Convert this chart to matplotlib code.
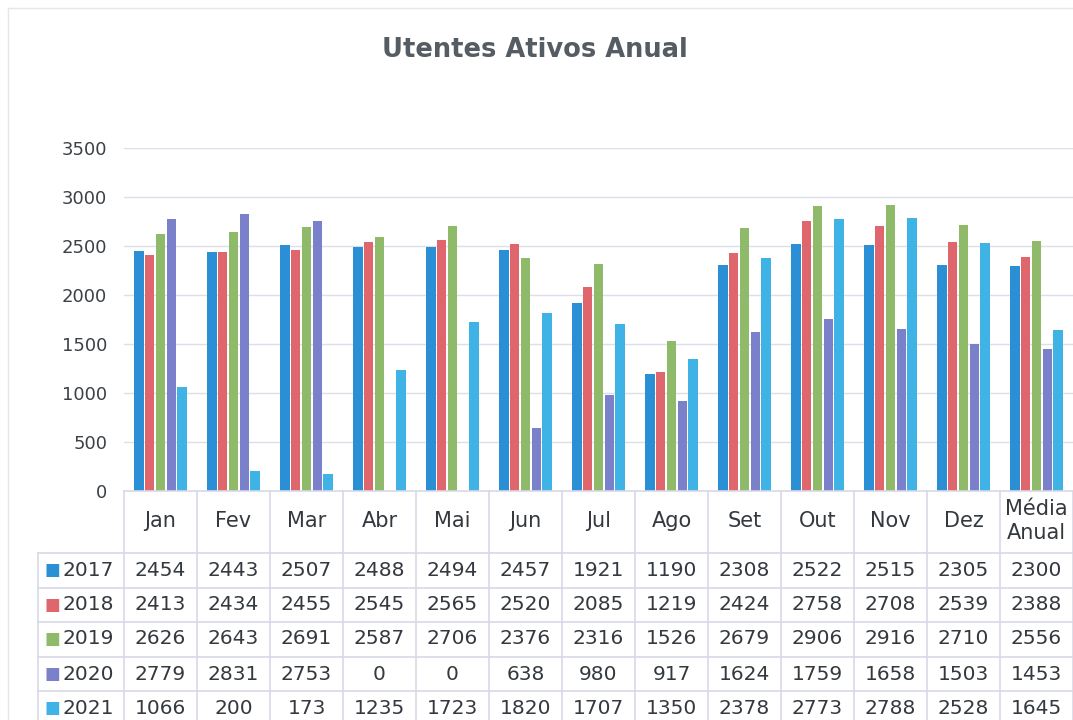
import numpy as np
import matplotlib.pyplot as plt
from matplotlib.transforms import blended_transform_factory
from matplotlib.lines import Line2D

# --- DADOS ---
meses = ["Jan", "Fev", "Mar", "Abr", "Mai", "Jun", "Jul", "Ago", "Set",
         "Out", "Nov", "Dez", "Média\nAnual"]
anos = ["2017", "2018", "2019", "2020", "2021"]
v2017 = [2454, 2443, 2507, 2488, 2494, 2457, 1921, 1190, 2308, 2522, 2515, 2305, 2300]
v2018 = [2413, 2434, 2455, 2545, 2565, 2520, 2085, 1219, 2424, 2758, 2708, 2539, 2388]
v2019 = [2626, 2643, 2691, 2587, 2706, 2376, 2316, 1526, 2679, 2906, 2916, 2710, 2556]
v2020 = [2779, 2831, 2753, 0, 0, 638, 980, 917, 1624, 1759, 1658, 1503, 1453]
v2021 = [1066, 200, 173, 1235, 1723, 1820, 1707, 1350, 2378, 2773, 2788, 2528, 1645]
series = [v2017, v2018, v2019, v2020, v2021]
cores = ["#2b8fd6", "#e0666e", "#8fba6a", "#7b80cb", "#3fb3e6"]

W, H = 1073, 720
fig = plt.figure(figsize=(W / 100, H / 100), dpi=100)
fig.patch.set_facecolor("white")

def fy(py):
    # pixel (de cima) -> fração da figura
    return 1 - py / H

x0, x1 = 124, 1073
y_top, y_zero = 148, 491
ax = fig.add_axes([x0 / W, fy(y_zero), (x1 - x0) / W, (y_zero - y_top) / H])

n = len(meses)
x = np.arange(n) + 0.5
passo, largura = 0.15, 0.135
for i, (vals, cor) in enumerate(zip(series, cores)):
    ax.bar(x + (i - 2) * passo, vals, width=largura, color=cor, zorder=3)

ax.set_xlim(0, n)
ax.set_ylim(0, 3500)
ax.set_yticks(np.arange(0, 3501, 500))
ax.tick_params(axis="y", length=0, pad=12, labelsize=13, labelcolor="#3c4146")
ax.set_xticks([])
for s in ax.spines.values():
    s.set_visible(False)
ax.grid(axis="y", color="#dcdee9", linewidth=1, zorder=0)
ax.set_axisbelow(True)

# --- TÍTULO ---
fig.text(535 / W, fy(50), "Utentes Ativos Anual", ha="center", va="center",
         fontsize=18.5, fontweight="bold", color="#555c64")

# --- TABELA DE DADOS ---
tr = blended_transform_factory(ax.transData, fig.transFigure)
cor_linha = "#d8d9e8"
txt_cor = "#33393f"

# linhas horizontais
linhas_y = [491, 553, 588, 622, 657, 691]
for k, py in enumerate(linhas_y):
    xa = x0 if k == 0 else 38
    fig.add_artist(Line2D([xa / W, 1], [fy(py), fy(py)], color=cor_linha, lw=1.2))
# linhas verticais
for j in range(n + 1):
    fig.add_artist(Line2D([j, j], [fy(491), fy(720)], color=cor_linha, lw=1.2,
                          transform=tr))
fig.add_artist(Line2D([38 / W, 38 / W], [fy(553), fy(720)], color=cor_linha, lw=1.2))

# cabeçalho
for j, m in enumerate(meses):
    fig.text(x[j], fy(521), m, transform=tr, ha="center", va="center",
             fontsize=15, color=txt_cor, linespacing=1.25)

# linhas de valores
centros = [570, 605, 639, 674, 708]
for i, (ano, vals, cor) in enumerate(zip(anos, series, cores)):
    py = centros[i]
    fig.text(45 / W, fy(py), "\u25A0", ha="left", va="center", fontsize=12,
             color=cor)
    fig.text(62 / W, fy(py), ano, ha="left", va="center", fontsize=14.5,
             color=txt_cor)
    for j, v in enumerate(vals):
        fig.text(x[j], fy(py), str(v), transform=tr, ha="center", va="center",
                 fontsize=14.5, color=txt_cor)

# moldura da área do gráfico
fig.add_artist(Line2D([8 / W, 1], [fy(8), fy(8)], color="#e6e6ec", lw=1))
fig.add_artist(Line2D([8 / W, 8 / W], [fy(8), 0], color="#e6e6ec", lw=1))

fig.savefig("out.png", dpi=100)
